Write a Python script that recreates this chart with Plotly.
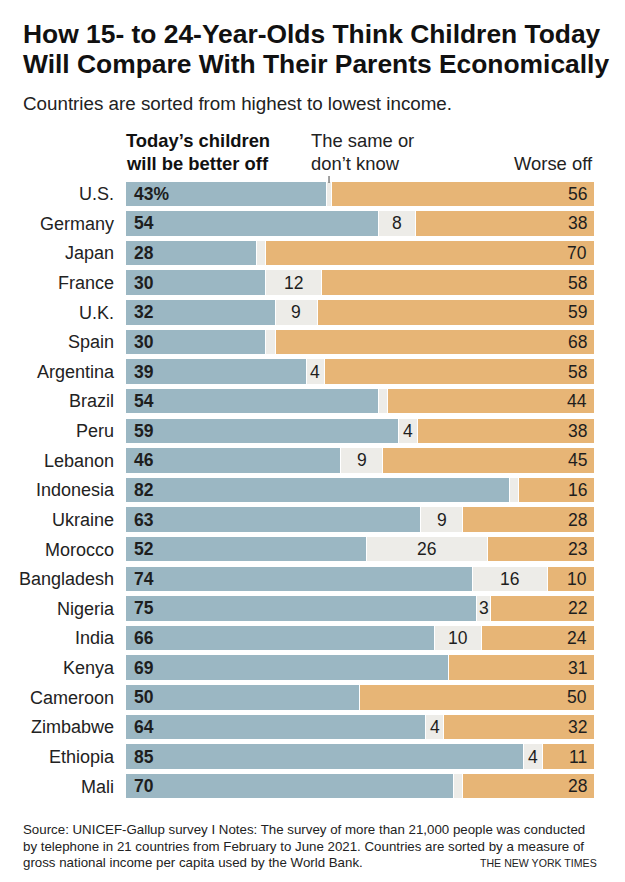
import plotly.graph_objects as go

countries = ["U.S.", "Germany", "Japan", "France", "U.K.", "Spain", "Argentina", "Brazil",
             "Peru", "Lebanon", "Indonesia", "Ukraine", "Morocco", "Bangladesh", "Nigeria",
             "India", "Kenya", "Cameroon", "Zimbabwe", "Ethiopia", "Mali"]
better = [43, 54, 28, 30, 32, 30, 39, 54, 59, 46, 82, 63, 52, 74, 75, 66, 69, 50, 64, 85, 70]
same = [1, 8, 2, 12, 9, 2, 4, 2, 4, 9, 2, 9, 26, 16, 3, 10, 0, 0, 4, 4, 2]
worse = [56, 38, 70, 58, 59, 68, 58, 44, 38, 45, 16, 28, 23, 10, 22, 24, 31, 50, 32, 11, 28]

BLUE = "#9bb7c3"
GRAY = "#edece8"
TAN = "#e7b576"
TXT = "#1e1e1e"
FONT = "Liberation Sans, Arial, sans-serif"

W, H = 625, 882
ML, MR, MT, MB = 125, 31, 179, 81


def px(x):
    return (x - ML) / (W - ML - MR)


def py(y):
    return (H - MB - y) / (H - MT - MB)


totals = [b + s + w for b, s, w in zip(better, same, worse)]
nb = [b / t * 100 for b, t in zip(better, totals)]
ns = [s / t * 100 for s, t in zip(same, totals)]
nw = [w / t * 100 for w, t in zip(worse, totals)]

fig = go.Figure()
for vals, col in [(nb, BLUE), (ns, GRAY), (nw, TAN)]:
    fig.add_trace(go.Bar(y=countries, x=vals, orientation="h", marker_color=col,
                         marker_line_color="white", marker_line_width=1,
                         width=0.86, hoverinfo="skip", textposition="none"))

ann = []
for i, c in enumerate(countries):
    lab = f"{better[i]}%" if i == 0 else str(better[i])
    ann.append(dict(x=0, y=c, xref="x", yref="y", text=f"<b>{lab}</b>", showarrow=False,
                    xanchor="left", xshift=7, font=dict(size=17.5, color=TXT, family=FONT)))
    ann.append(dict(x=100, y=c, xref="x", yref="y", text=str(worse[i]), showarrow=False,
                    xanchor="right", xshift=-5, font=dict(size=17.5, color=TXT, family=FONT)))
    if same[i] >= 3:
        ann.append(dict(x=nb[i] + ns[i] / 2, y=c, xref="x", yref="y", text=str(same[i]),
                        showarrow=False, xanchor="center",
                        font=dict(size=17.5, color=TXT, family=FONT)))


def note(x, y, text, size, anchor="left", color="#222"):
    return dict(x=px(x), y=py(y), xref="paper", yref="paper", text=text, showarrow=False,
                xanchor=anchor, yanchor="middle", align=anchor,
                font=dict(size=size, color=color, family=FONT))


ann += [
    note(21, 34.5, "<b>How 15- to 24-Year-Olds Think Children Today</b>", 26.4, color="#111"),
    note(21, 64.5, "<b>Will Compare With Their Parents Economically</b>", 26.4, color="#111"),
    note(21, 103.5, "Countries are sorted from highest to lowest income.", 18.8),
    note(124, 141, "<b>Today’s children</b>", 18.4, color="#111"),
    note(124, 163, "<b>will be better off</b>", 18.4, color="#111"),
    note(309, 141, "The same or", 18.4),
    note(309, 163, "don’t know", 18.4),
    note(595, 163, "Worse off", 18.4, anchor="right"),
    note(21, 829, "Source: UNICEF-Gallup survey I Notes: The survey of more than 21,000 people was conducted", 13.3),
    note(21, 846, "by telephone in 21 countries from February to June 2021. Countries are sorted by a measure of", 13.3),
    note(21, 862, "gross national income per capita used by the World Bank.", 13.3),
    note(599, 863, "THE NEW YORK TIMES", 10.6, anchor="right"),
]

fig.add_shape(type="line", xref="x", yref="paper", x0=nb[0] + ns[0] / 2, x1=nb[0] + ns[0] / 2,
              y0=py(176), y1=py(183), line=dict(color="#444", width=1))

fig.update_layout(
    annotations=ann,
    width=W, height=H, barmode="stack", showlegend=False,
    margin=dict(l=ML, r=MR, t=MT, b=MB),
    paper_bgcolor="white", plot_bgcolor="white",
    xaxis=dict(range=[0, 100], visible=False, fixedrange=True),
    yaxis=dict(autorange="reversed", showgrid=False, zeroline=False, showline=False,
               ticks="", ticklabelstandoff=10, automargin=False, fixedrange=True,
               tickfont=dict(size=18, color="#222", family=FONT)),
)
fig.write_html("out.html", config={"displayModeBar": False},
               post_script="document.body.style.margin='0';document.body.style.padding='0';")
